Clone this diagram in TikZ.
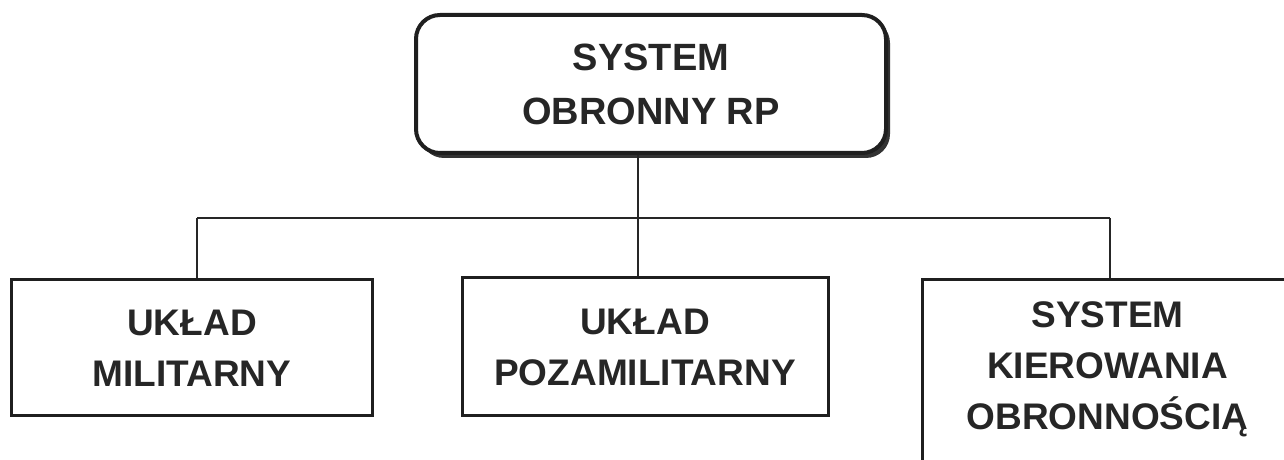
\documentclass[tikz,border=0pt]{standalone}
\usepackage{fontspec}
\setmainfont{Liberation Sans}
\begin{document}
\begin{tikzpicture}[x=1bp,y=-1bp,
  boxstyle/.style={draw=black!88, line width=3bp, fill=white, align=center, inner sep=0pt,
     font=\bfseries\fontsize{37bp}{51bp}\selectfont, text=black!85},
  topbox/.style={boxstyle, rounded corners=24bp, line width=4bp,
     font=\bfseries\fontsize{38bp}{54bp}\selectfont},
  link/.style={draw=black!85, line width=1.5bp}]
\useasboundingbox (0,0) rectangle (1284,460);
% shadow of the top box
\fill[black!80, rounded corners=24bp] (420,19) rectangle (890,158);
\node[topbox, minimum width=470bp, minimum height=138bp] (top) at (651,84) {SYSTEM\\OBRONNY RP};
\node[boxstyle, minimum width=360bp, minimum height=136bp] (left) at (192,348) {UKŁAD\\MILITARNY};
\node[boxstyle, minimum width=366bp, minimum height=138bp] (mid) at (645,347) {UKŁAD\\POZAMILITARNY};
\node[boxstyle, anchor=north west, minimum width=370bp, minimum height=220bp, text depth=0pt] (right) at (921,278) {SYSTEM\\KIEROWANIA\\OBRONNOŚCIĄ\\[-4bp]};
\coordinate (jl) at (197,218);
\coordinate (jm) at (638,218);
\coordinate (jr) at (1110,218);
\draw[link] (jl) -- (jr);
\draw[link] (jm) -- (jm |- top.south);
\draw[link] (jl) -- (jl |- left.north);
\draw[link] (jm) -- (jm |- mid.north);
\draw[link] (jr) -- (jr |- right.north);
\end{tikzpicture}
\end{document}
